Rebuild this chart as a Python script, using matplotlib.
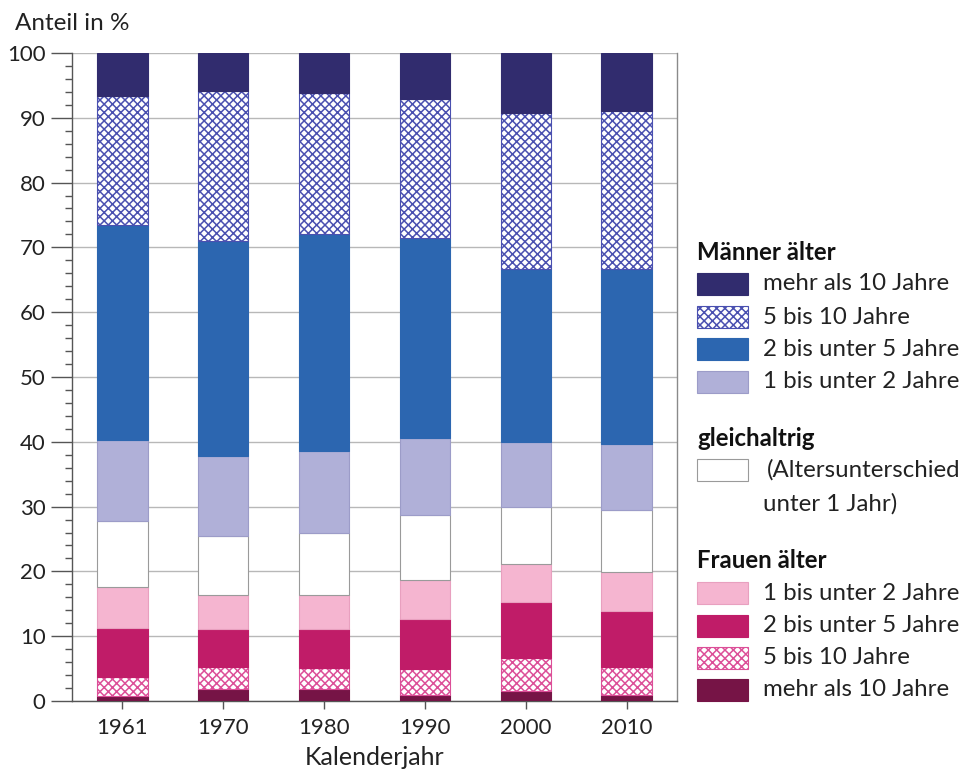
import matplotlib.pyplot as plt
from matplotlib.patches import Rectangle
import numpy as np

plt.rcParams['font.family'] = ['Lato', 'DejaVu Sans']
plt.rcParams['hatch.linewidth'] = 1.1

# Daten (Anteile in %, von unten nach oben gestapelt)
years = ['1961', '1970', '1980', '1990', '2000', '2010']
frauen_10plus = [0.8, 1.8, 1.8, 0.9, 1.5, 0.9]
frauen_5_10 = [2.9, 3.5, 3.3, 4.1, 5.1, 4.4]
frauen_2_5 = [7.5, 5.8, 6.0, 7.7, 8.7, 8.6]
frauen_1_2 = [6.4, 5.2, 5.3, 6.0, 5.8, 6.0]
gleichaltrig = [10.1, 9.1, 9.6, 10.0, 8.9, 9.5]
maenner_1_2 = [12.6, 12.4, 12.6, 11.9, 9.9, 10.3]
maenner_2_5 = [33.1, 33.2, 33.5, 30.9, 26.8, 27.0]
maenner_5_10 = [19.9, 23.1, 21.7, 21.4, 24.1, 24.3]
maenner_10plus = [6.7, 5.9, 6.2, 7.1, 9.2, 9.0]

HATCH = 'xxxx'

# (werte, facecolor, edgecolor, hatch)
segments = [
    (frauen_10plus, '#761446', '#761446', None),
    (frauen_5_10, 'white', '#dc4f98', HATCH),
    (frauen_2_5, '#c01c68', '#c01c68', None),
    (frauen_1_2, '#f5b5d0', '#e8a0bf', None),
    (gleichaltrig, 'white', '#9a9a9a', None),
    (maenner_1_2, '#b0b0d8', '#9c9cc8', None),
    (maenner_2_5, '#2c66b0', '#2c66b0', None),
    (maenner_5_10, 'white', '#4a50b0', HATCH),
    (maenner_10plus, '#312c6e', '#312c6e', None),
]

fig = plt.figure(figsize=(9.69, 7.71), dpi=100)
ax = fig.add_axes([0.0743, 0.0908, 0.6244, 0.8405])

x = np.arange(len(years))
bottom = np.zeros(len(years))
for vals, fc, ec, hatch in segments:
    ax.bar(x, vals, width=0.5, bottom=bottom, color=fc, edgecolor=ec,
           hatch=hatch, linewidth=0.8, zorder=3)
    bottom += np.array(vals)

ax.set_xlim(-0.5, 5.5)
ax.set_ylim(0, 100)
ax.set_yticks(np.arange(0, 101, 10))
ax.set_yticks(np.arange(0, 101, 2), minor=True)
ax.set_xticks(x)
ax.set_xticklabels(years)
ax.grid(axis='y', color='#b8b8b8', linewidth=1.0, zorder=0)
ax.set_axisbelow(True)

ax.spines['top'].set_visible(False)
ax.spines['left'].set_color('#555555')
ax.spines['bottom'].set_color('#555555')
ax.spines['right'].set_color('#8a8a8a')
for s in ['left', 'bottom', 'right']:
    ax.spines[s].set_linewidth(1.0)

ax.tick_params(axis='y', which='major', length=15, width=1.0, color='#555555',
               labelsize=16, labelcolor='#222222', pad=4)
ax.tick_params(axis='y', which='minor', length=5, width=1.0, color='#555555')
ax.tick_params(axis='x', length=6, width=1.0, color='#555555',
               labelsize=16, labelcolor='#222222', pad=6)

ax.set_xlabel('Kalenderjahr', fontsize=18, color='#222222', labelpad=6)
fig.text(15 / 969, 1 - 23 / 771, 'Anteil in %', fontsize=17.5, color='#222222',
         ha='left', va='center')

# Legende (in Pixelkoordinaten der Abbildung)
lax = fig.add_axes([0, 0, 1, 1], zorder=-1)
lax.set_xlim(0, 969)
lax.set_ylim(771, 0)
lax.axis('off')

def swatch(yc, fc, ec, hatch=None):
    lax.add_patch(Rectangle((697, yc - 11), 51, 22, facecolor=fc, edgecolor=ec,
                            hatch=hatch, linewidth=0.8))

def title(yc, txt):
    lax.text(697, yc, txt, fontsize=17.3, fontweight='bold', color='#111111',
             ha='left', va='center')

def label(yc, txt, x0=763):
    lax.text(x0, yc, txt, fontsize=17.3, color='#222222', ha='left', va='center')

title(252, 'Männer älter')
men_rows = [(284, 'mehr als 10 Jahre', '#312c6e', '#312c6e', None),
            (317, '5 bis 10 Jahre', 'white', '#4a50b0', HATCH),
            (349, '2 bis unter 5 Jahre', '#2c66b0', '#2c66b0', None),
            (382, '1 bis unter 2 Jahre', '#b0b0d8', '#9c9cc8', None)]
for yc, txt, fc, ec, h in men_rows:
    swatch(yc, fc, ec, h)
    label(yc, txt)

title(438, 'gleichaltrig')
swatch(470, 'white', '#9a9a9a')
label(470, '(Altersunterschied', x0=767)
label(504, 'unter 1 Jahr)')

title(561, 'Frauen älter')
women_rows = [(593, '1 bis unter 2 Jahre', '#f5b5d0', '#e8a0bf', None),
              (626, '2 bis unter 5 Jahre', '#c01c68', '#c01c68', None),
              (658, '5 bis 10 Jahre', 'white', '#dc4f98', HATCH),
              (690, 'mehr als 10 Jahre', '#761446', '#761446', None)]
for yc, txt, fc, ec, h in women_rows:
    swatch(yc, fc, ec, h)
    label(yc, txt)

fig.savefig('out.png', dpi=100)
